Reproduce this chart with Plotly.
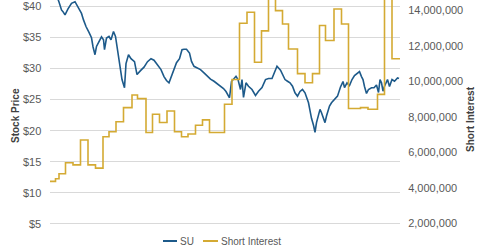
import pandas as pd
import plotly.graph_objects as go

# ---- data ----
start_date = pd.Timestamp("2014-06-01")

su_day = [2, 12, 18, 23, 26, 30, 36, 43, 50, 56, 63, 67, 72, 78, 83, 86, 90, 93, 98, 103,
          107, 109, 113, 118, 122, 127, 131, 135, 139, 144, 149, 152, 157, 162, 169, 174, 181, 188, 195, 202,
          208, 215, 222, 228, 233, 238, 241, 248, 253, 259, 264, 268, 273, 279, 283, 288, 294, 301, 308, 314,
          321, 328, 334, 341, 347, 352, 359, 363, 367, 372, 376, 381, 384, 387, 392, 397, 404, 411, 417, 424,
          431, 437, 444, 449, 454, 461, 466, 470, 475, 480, 485, 490, 495, 500, 505, 510, 517, 520, 523, 527,
          530, 533, 537, 540, 543, 547, 550, 553, 559, 563, 570, 575, 581, 586, 589, 594, 599, 604, 609, 615,
          619, 623, 626, 629, 633, 637, 643, 648, 653, 657, 660, 663, 666, 669, 675, 679, 684, 689, 695, 698]
su_price = [42.5, 42.0, 40.68, 39.4, 39.13, 38.6, 39.56, 40.47, 40.73, 39.8, 38.84, 37.8, 36.73, 35.8, 34.92, 33.48, 32.2, 33.53, 34.33, 35.08,
            34.6, 33.0, 34.87, 35.13, 34.6, 35.93, 35.13, 32.73, 31.13, 28.2, 26.87, 30.76, 32.2, 31.56, 31.08, 29.0, 29.64, 30.2, 31.08, 31.56,
            31.32, 30.6, 29.8, 28.68, 28.04, 27.67, 28.36, 29.64, 30.92, 31.56, 33.0, 33.08, 33.08, 32.47, 31.13, 30.33, 30.07, 29.8, 29.27, 28.73,
            28.28, 27.93, 27.56, 27.16, 26.76, 26.28, 25.27, 27.88, 28.2, 28.73, 28.2, 26.6, 28.2, 25.32, 27.67, 27.13, 26.6, 25.64, 26.33, 26.92,
            28.2, 28.36, 28.36, 29.53, 30.33, 29.72, 29.0, 28.2, 27.93, 27.67, 27.13, 26.07, 25.53, 26.28, 26.6, 26.07, 24.47, 23.08, 21.96, 20.84,
            19.72, 21.27, 22.33, 23.4, 22.87, 21.8, 21.27, 22.33, 23.93, 24.47, 25.0, 25.53, 27.0, 27.88, 26.92, 27.67, 27.24, 28.2, 28.84, 29.16,
            29.48, 28.68, 28.2, 27.08, 25.96, 26.6, 26.87, 26.87, 27.32, 26.12, 28.2, 27.67, 26.33, 27.13, 28.2, 27.08, 28.2, 27.93, 28.47, 28.36]

si_day = [0, 11, 18, 31, 46, 61, 76, 91, 106, 118, 132, 147, 164, 175, 192, 205, 219, 234, 249, 263,
          276, 291, 305, 319, 349, 364, 379, 394, 409, 423, 437, 451, 465, 477, 495, 510, 525, 539, 551, 568,
          583, 597, 621, 636, 655, 669, 684, 700]
si_value = [4.37, 4.52, 4.80, 5.42, 5.30, 6.70, 5.30, 5.12, 6.89, 7.17, 7.73, 8.53, 9.24, 9.04, 7.13, 8.16, 7.69, 8.34, 7.17, 6.89,
            7.04, 7.54, 7.84, 7.13, 8.72, 10.12, 13.29, 13.91, 11.09, 12.86, 15.3, 14.0, 13.25, 11.84, 10.45, 9.93, 10.45, 13.16, 12.32, 14.09,
            13.25, 8.48, 8.53, 8.44, 9.28, 16.5, 11.29, 11.29]  # millions of shares

price_ticks = [5, 10, 15, 20, 25, 30, 35, 40]
price_labels = ["$5", "$10", "$15", "$20", "$25", "$30", "$35", "$40"]
si_ticks = [2e6, 4e6, 6e6, 8e6, 10e6, 12e6, 14e6]

# ---- figure ----
su_x = [start_date + pd.Timedelta(days=d) for d in su_day]
si_x = [start_date + pd.Timedelta(days=d) for d in si_day]
si_y = [v * 1e6 for v in si_value]

SU_COLOR = "#1d5a8a"
SI_COLOR = "#d4aa33"
TICK_COLOR = "#595959"
TITLE_COLOR = "#404040"

L, R, T, B = 50, 80, 0, 26
W, H = 480, 251
pw, ph = W - L - R, H - T - B

def px_x(px):
    return (px - L) / pw

def px_y(py):
    return (H - B - py) / ph

fig = go.Figure()
fig.add_trace(go.Scatter(x=si_x, y=si_y, mode="lines", name="Short Interest",
                         line=dict(color=SI_COLOR, width=1.6, shape="hv"), yaxis="y2"))
fig.add_trace(go.Scatter(x=su_x, y=su_price, mode="lines", name="SU",
                         line=dict(color=SU_COLOR, width=1.6), yaxis="y"))

fig.update_layout(
    width=W, height=H,
    margin=dict(l=L, r=R, t=T, b=B, autoexpand=False),
    plot_bgcolor="white", paper_bgcolor="white",
    showlegend=False,
    font=dict(family="Arial, Liberation Sans, sans-serif", size=11, color=TICK_COLOR),
    xaxis=dict(range=[start_date, start_date + pd.Timedelta(days=700)],
               showticklabels=False, showgrid=False, showline=False, zeroline=False),
    yaxis=dict(range=[4.8, 41], tickmode="array", tickvals=price_ticks,
               showticklabels=False,
               showgrid=True, gridcolor="#d9d9d9", gridwidth=1, zeroline=False, ticks=""),
    yaxis2=dict(range=[1.91e6, 14.6e6], tickmode="array", tickvals=si_ticks, tickformat=",d",
                overlaying="y", side="right", showgrid=False, zeroline=False,
                ticks="outside", ticklen=5, tickcolor="white"),
)

# left tick labels placed on the price scale
for v, lab in zip(price_ticks, price_labels):
    fig.add_annotation(x=px_x(43), y=v, xref="paper", yref="y", text=lab, showarrow=False,
                       xanchor="right", yanchor="middle", font=dict(size=11, color=TICK_COLOR))

# axis titles
fig.add_annotation(x=px_x(15), y=px_y(116), xref="paper", yref="paper", text="<b>Stock Price</b>",
                   textangle=-90, showarrow=False, xanchor="center", yanchor="middle",
                   font=dict(size=10, color=TITLE_COLOR))
fig.add_annotation(x=px_x(470), y=px_y(119), xref="paper", yref="paper", text="<b>Short Interest</b>",
                   textangle=-90, showarrow=False, xanchor="center", yanchor="middle",
                   font=dict(size=10, color=TITLE_COLOR))

# legend (drawn by hand for short line samples)
for (x0, x1, col, label, tx) in [(163, 177, SU_COLOR, "SU", 178), (203, 218, SI_COLOR, "Short Interest", 219)]:
    fig.add_shape(type="line", xref="paper", yref="paper", x0=px_x(x0), x1=px_x(x1),
                  y0=px_y(241), y1=px_y(241), line=dict(color=col, width=2))
    fig.add_annotation(x=px_x(tx), y=px_y(241), xref="paper", yref="paper", text=label, showarrow=False,
                       xanchor="left", yanchor="middle", font=dict(size=10, color=TICK_COLOR))

fig.write_html("out.html")
